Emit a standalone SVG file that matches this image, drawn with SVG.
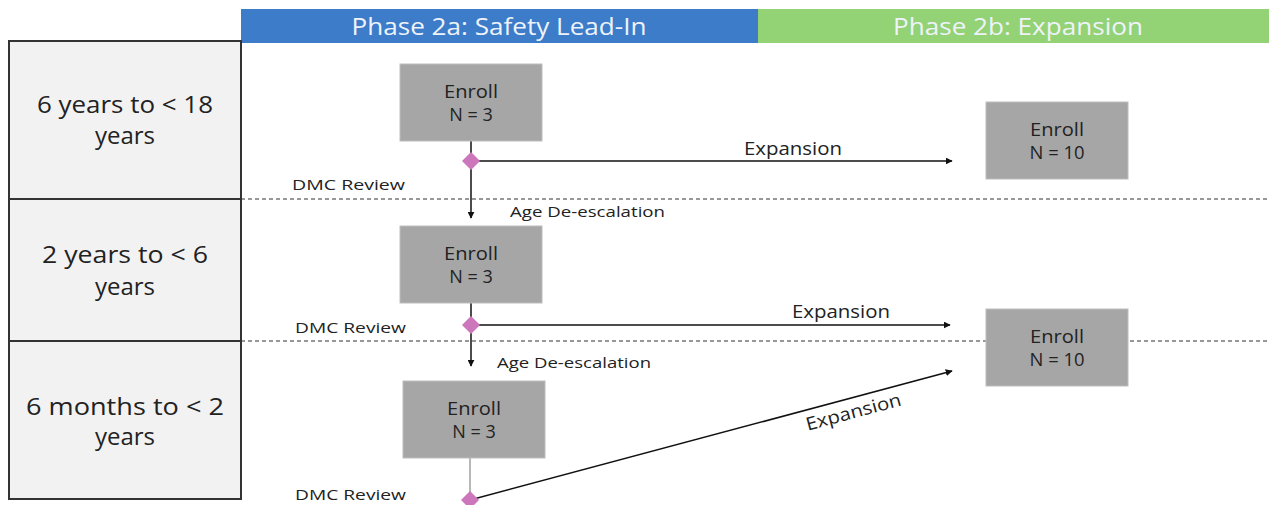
<svg xmlns="http://www.w3.org/2000/svg" width="1269" height="505" viewBox="0 0 1269 505">
<defs>
<style>
text{font-family:"Open Sans","Liberation Sans",sans-serif;fill:#222}
.hdr{font-size:23px;fill:#eef3fb;text-anchor:middle}
.age{font-size:24px;text-anchor:middle}
.box{fill:#a6a6a6;stroke:#bdbdbd;stroke-width:1}
.bt{font-size:18px;text-anchor:middle}
.lbl{font-size:15px}
.exp{font-size:18px;text-anchor:middle}
.dash{stroke:#333;stroke-width:1.2;stroke-dasharray:4 3;fill:none}
.ln{stroke:#111;stroke-width:1.5;fill:none}
.dia{fill:#cc77bb}
</style>
<marker id="ah" viewBox="0 0 10 10" refX="9" refY="5" markerWidth="7" markerHeight="7" markerUnits="userSpaceOnUse" orient="auto">
<path d="M0,0 L10,5 L0,10 z" fill="#111"/>
</marker>
</defs>
<rect width="1269" height="505" fill="#fff"/>
<g id="header">
<rect x="241" y="9" width="517" height="34" fill="#3d7cc9"/>
<rect x="758" y="9" width="511" height="34" fill="#93d275"/>
<text class="hdr" x="499" y="35" textLength="295" lengthAdjust="spacingAndGlyphs">Phase 2a: Safety Lead-In</text>
<text class="hdr" x="1018" y="35" textLength="250" lengthAdjust="spacingAndGlyphs">Phase 2b: Expansion</text>
</g>
<g id="dividers">
<line class="dash" x1="241" y1="199" x2="1269" y2="199"/>
<line class="dash" x1="241" y1="341" x2="1269" y2="341"/>
</g>
<g id="age-rows">
<g id="row1"><rect x="9" y="41" width="232" height="158" fill="#f2f2f2" stroke="#333" stroke-width="2"/>
<text class="age" x="125" y="113" textLength="176" lengthAdjust="spacingAndGlyphs">6 years to &lt; 18</text><text class="age" x="125" y="144">years</text></g>
<g id="row2"><rect x="9" y="199" width="232" height="142" fill="#f2f2f2" stroke="#333" stroke-width="2"/>
<text class="age" x="125" y="263" textLength="166" lengthAdjust="spacingAndGlyphs">2 years to &lt; 6</text><text class="age" x="125" y="295">years</text></g>
<g id="row3"><rect x="9" y="341" width="232" height="158" fill="#f2f2f2" stroke="#333" stroke-width="2"/>
<text class="age" x="125" y="415" textLength="198" lengthAdjust="spacingAndGlyphs">6 months to &lt; 2</text><text class="age" x="125" y="445">years</text></g>
</g>
<g id="connectors">
<line class="ln" x1="471" y1="141" x2="471" y2="218" marker-end="url(#ah)"/>
<line class="ln" x1="471" y1="161" x2="952" y2="161" marker-end="url(#ah)"/>
<line class="ln" x1="471" y1="303" x2="471" y2="366" marker-end="url(#ah)"/>
<line class="ln" x1="471" y1="325" x2="950" y2="325" marker-end="url(#ah)"/>
<line x1="470" y1="458" x2="470" y2="499" stroke="#888" stroke-width="1.2"/>
<line class="ln" x1="470" y1="500" x2="952" y2="371" marker-end="url(#ah)"/>
<text class="exp" x="793" y="155" textLength="98" lengthAdjust="spacingAndGlyphs">Expansion</text>
<text class="exp" x="841" y="318" textLength="98" lengthAdjust="spacingAndGlyphs">Expansion</text>
<text class="exp" transform="translate(855,418) rotate(-15)" textLength="98" lengthAdjust="spacingAndGlyphs">Expansion</text>
<text class="lbl" x="510" y="217" textLength="155" lengthAdjust="spacingAndGlyphs">Age De-escalation</text>
<text class="lbl" x="497" y="368" textLength="154" lengthAdjust="spacingAndGlyphs">Age De-escalation</text>
<text class="lbl" x="292" y="190" textLength="113" lengthAdjust="spacingAndGlyphs">DMC Review</text>
<text class="lbl" x="295" y="333" textLength="111" lengthAdjust="spacingAndGlyphs">DMC Review</text>
<text class="lbl" x="295" y="500" textLength="111" lengthAdjust="spacingAndGlyphs">DMC Review</text>
</g>
<g id="dmc1"><polygon class="dia" points="471,152 480,161 471,170 462,161"/></g>
<g id="dmc2"><polygon class="dia" points="471,316 480,325 471,334 462,325"/></g>
<g id="dmc3"><polygon class="dia" points="470,491 479,500 470,509 461,500"/></g>
<g id="enroll1"><rect class="box" x="400" y="64" width="142" height="77"/><text class="bt" x="471" y="98" textLength="54" lengthAdjust="spacingAndGlyphs">Enroll</text><text class="bt" x="471" y="121">N = 3</text></g>
<g id="enroll2"><rect class="box" x="400" y="226" width="142" height="77"/><text class="bt" x="471" y="260" textLength="54" lengthAdjust="spacingAndGlyphs">Enroll</text><text class="bt" x="471" y="283">N = 3</text></g>
<g id="enroll3"><rect class="box" x="403" y="381" width="142" height="77"/><text class="bt" x="474" y="415" textLength="54" lengthAdjust="spacingAndGlyphs">Enroll</text><text class="bt" x="474" y="438">N = 3</text></g>
<g id="expand1"><rect class="box" x="986" y="102" width="142" height="77"/><text class="bt" x="1057" y="136" textLength="54" lengthAdjust="spacingAndGlyphs">Enroll</text><text class="bt" x="1057" y="159" textLength="55" lengthAdjust="spacingAndGlyphs">N = 10</text></g>
<g id="expand2"><rect class="box" x="986" y="309" width="142" height="77"/><text class="bt" x="1057" y="343" textLength="54" lengthAdjust="spacingAndGlyphs">Enroll</text><text class="bt" x="1057" y="366" textLength="55" lengthAdjust="spacingAndGlyphs">N = 10</text></g>
</svg>
